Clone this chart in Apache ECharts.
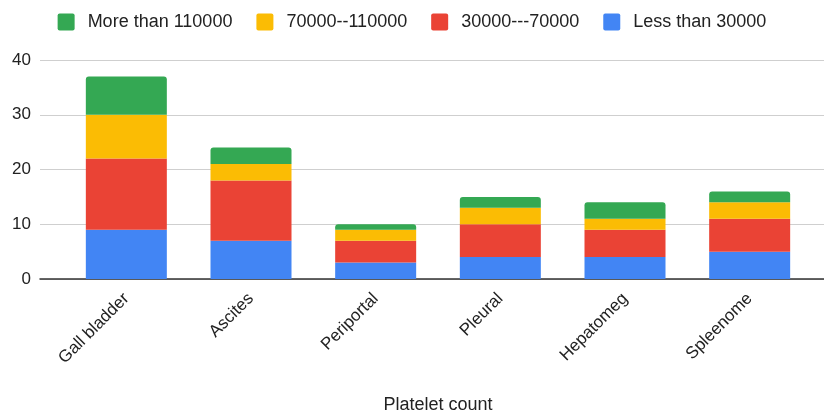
<!DOCTYPE html>
<html>
<head>
<meta charset="utf-8">
<script src="https://cdn.jsdelivr.net/npm/echarts@6/dist/echarts.min.js"></script>
<style>
  html, body { margin: 0; padding: 0; background: #fff; }
  #chart { width: 824px; height: 416px; }
</style>
</head>
<body>
<div id="chart"></div>
<script>
// Findings grouped by platelet count range
const categories = ['Gall bladder', 'Ascites', 'Periportal', 'Pleural', 'Hepatomeg', 'Spleenome'];
const lessThan30000 = [9, 7, 3, 4, 4, 5];
const from30000to70000 = [13, 11, 4, 6, 5, 6];
const from70000to110000 = [8, 3, 2, 3, 2, 3];
const moreThan110000 = [7, 3, 1, 2, 3, 2];
const seriesNames = ['Less than 30000', '30000---70000', '70000--110000', 'More than 110000'];
const seriesColors = ['#4285F4', '#EA4335', '#FBBC04', '#34A853'];
const yTicks = { min: 0, max: 40, interval: 10 };
const xTitle = 'Platelet count';

const FONT = '"Liberation Sans", Arial, sans-serif';
const TEXT = '#222';

const values = [lessThan30000, from30000to70000, from70000to110000, moreThan110000];

const series = values.map((vals, i) => ({
  name: seriesNames[i],
  type: 'bar',
  stack: 'total',
  xAxisIndex: 1,
  yAxisIndex: 1,
  barWidth: 81,
  data: vals,
  itemStyle: {
    color: seriesColors[i],
    borderRadius: i === values.length - 1 ? [3, 3, 0, 0] : 0
  }
}));

// small square legend marker with slightly rounded corners
const legendIcon = 'path://M2,0H15Q17,0 17,2V15Q17,17 15,17H2Q0,17 0,15V2Q0,0 2,0Z';

const chart = echarts.init(document.getElementById('chart'), null, { renderer: 'canvas' });
chart.setOption({
  animation: false,
  textStyle: { fontFamily: FONT },
  legend: {
    data: seriesNames.slice().reverse(),
    top: 8,
    left: 'center',
    itemWidth: 17,
    itemHeight: 17,
    itemGap: 24,
    icon: legendIcon,
    textStyle: { fontSize: 18, color: TEXT, fontFamily: FONT, padding: [0, 0, 0, 8] }
  },
  grid: [
    // frame: gridlines, value labels and baseline across the full width
    { left: 40, right: 0, top: 60, bottom: 137, outerBoundsMode: 'none', containLabel: false },
    // bars
    { left: 64, right: 12, top: 60, bottom: 137, outerBoundsMode: 'none', containLabel: false }
  ],
  xAxis: [
    {
      gridIndex: 0,
      type: 'value',
      min: 0, max: 1,
      axisLine: { show: true, onZero: false, lineStyle: { color: '#333', width: 1.5 } },
      axisTick: { show: false },
      axisLabel: { show: false },
      splitLine: { show: false }
    },
    {
      gridIndex: 1,
      type: 'category',
      data: categories,
      axisLine: { show: false },
      axisTick: { show: false },
      axisLabel: {
        rotate: 45,
        fontSize: 17,
        color: TEXT,
        fontFamily: FONT,
        margin: 17
      },
      name: xTitle,
      nameLocation: 'middle',
      nameGap: 117,
      nameTextStyle: { fontSize: 18, color: TEXT, fontFamily: FONT }
    }
  ],
  yAxis: [
    {
      gridIndex: 0,
      type: 'value',
      min: yTicks.min, max: yTicks.max, interval: yTicks.interval,
      axisLine: { show: false },
      axisTick: { show: false },
      axisLabel: { fontSize: 17, color: TEXT, fontFamily: FONT, margin: 9 },
      splitLine: { lineStyle: { color: '#cfcfcf', width: 1 } }
    },
    {
      gridIndex: 1,
      type: 'value',
      min: yTicks.min, max: yTicks.max, interval: yTicks.interval,
      show: false,
      splitLine: { show: false }
    }
  ],
  series: series
});
</script>
</body>
</html>
